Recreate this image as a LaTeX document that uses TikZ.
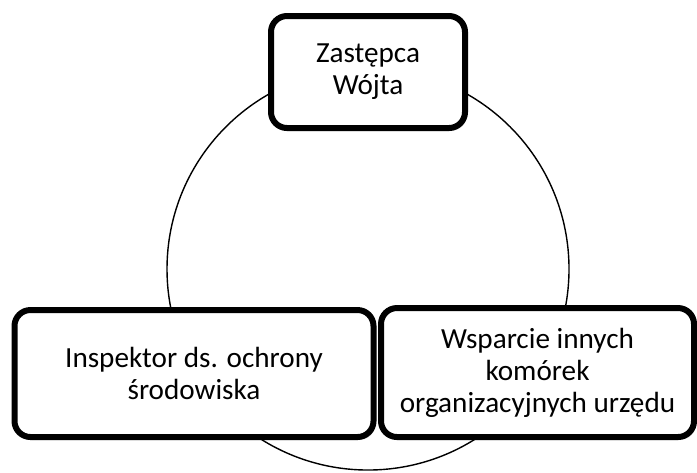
\documentclass[tikz,border=0pt]{standalone}
\usepackage{fontspec}
\setmainfont{Carlito}
\usetikzlibrary{shadows}
\tikzset{postbox/.style={draw, line width=0.06cm, rounded corners=0.16cm, fill=white,
    align=center, inner sep=0pt, font=\fontsize{8.3pt}{9.1pt}\selectfont,
    drop shadow={shadow xshift=0.02cm, shadow yshift=-0.03cm, opacity=0.2}}}
\begin{document}
\begin{tikzpicture}
        \useasboundingbox (0,0) rectangle (6.97,4.72);
        \node[draw, circle, thin, minimum size=4.02cm, inner sep=0pt] (ring) at (3.68,2.03) {};
        \node[postbox, minimum width=1.94cm, minimum height=1.12cm] (zastepca) at (3.68,4.00) {Zastępca\\Wójta};
        \node[postbox, minimum width=3.59cm, minimum height=1.27cm] (inspektor) at (1.94,0.985) {Inspektor ds. ochrony\\środowiska};
        \node[postbox, minimum width=3.13cm, minimum height=1.29cm] (wsparcie) at (5.375,0.995) {Wsparcie innych\\komórek\\organizacyjnych urzędu};
    \end{tikzpicture}
\end{document}
